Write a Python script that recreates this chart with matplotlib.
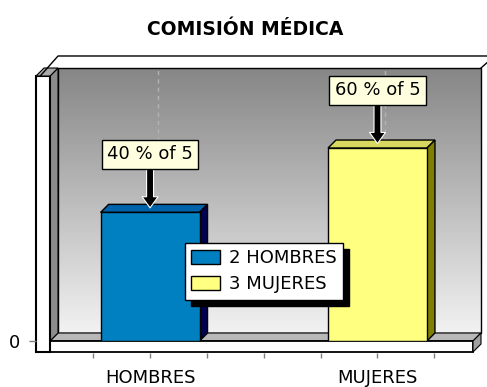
import matplotlib
matplotlib.use("Agg")
import matplotlib.pyplot as plt
import numpy as np
from matplotlib.colors import LinearSegmentedColormap
from matplotlib.patches import Polygon, Rectangle

# data
categories = ["HOMBRES", "MUJERES"]
counts = [2, 3]
total = sum(counts)

# styles
FRONT = ["#0080C0", "#FFFF80"]
TOP = ["#0062A8", "#D8D860"]
SIDE = ["#000050", "#808000"]
TICK_GRAY = "#808080"

W, H = 487, 387
AX_L, AX_R, AX_T, AX_B = 50, 473, 76, 341   # front plane, pixels
DEPTH = 8                                   # 3D depth, pixels
BAR_W = 0.435

fig = plt.figure(figsize=(W / 100, H / 100), dpi=100)
ax = fig.add_axes([AX_L / W, 1 - AX_B / H, (AX_R - AX_L) / W, (AX_B - AX_T) / H])
ax.set_xlim(-0.44, 1.42)
ax.set_ylim(0, 4.12)
ax.patch.set_visible(False)
for s in ax.spines.values():
    s.set_visible(False)

T = ax.transAxes
dax = DEPTH / (AX_R - AX_L)
day = DEPTH / (AX_B - AX_T)
x0, x1 = ax.get_xlim()
y0, y1 = ax.get_ylim()
ddx = dax * (x1 - x0)
ddy = day * (y1 - y0)

# back wall with gradient
grad = np.linspace(0, 1, 256).reshape(-1, 1)
cmap = LinearSegmentedColormap.from_list("wall", ["#f2f2f2", "#868686"])
ax.imshow(grad, cmap=cmap, extent=(dax, 1 + dax, day, 1 + day), transform=T,
          aspect="auto", origin="lower", zorder=0, clip_on=False,
          interpolation="bilinear")
ax.set_xlim(x0, x1)
ax.set_ylim(y0, y1)
ax.add_patch(Rectangle((dax, day), 1, 1, fill=False, ec="black", lw=1,
                       transform=T, clip_on=False, zorder=0.2))

x = np.arange(len(categories))

# dashed gridlines on the back wall
for xi in x:
    ax.plot([xi + ddx, xi + ddx], [ddy, y1 + ddy], ls=(0, (3, 3)), color="#b4b4b4",
            lw=1, zorder=0.3, clip_on=False)

# floor
fy = 11 / (AX_B - AX_T)
ax.add_patch(Polygon([(0, 0), (1, 0), (1 + dax, day), (dax, day)], closed=True,
                     fc="#b8b8b8", ec="black", lw=0.8, transform=T, clip_on=False, zorder=0.4))
ax.add_patch(Rectangle((0, -fy), 1, fy, fc="white", ec="black", lw=1.3,
                       transform=T, clip_on=False, zorder=0.45))
ax.add_patch(Polygon([(1, -fy), (1, 0), (1 + dax, day), (1 + dax, day - fy)], closed=True,
                     fc="#a0a0a0", ec="black", lw=0.8, transform=T, clip_on=False, zorder=0.45))

# left wall
lwx = 14 / (AX_R - AX_L)
ax.add_patch(Polygon([(0, 0), (dax, day), (dax, 1 + day), (0, 1)], closed=True,
                     fc="#8c8c8c", ec="black", lw=0.8, transform=T, clip_on=False, zorder=0.5))
ax.add_patch(Rectangle((-lwx, -fy), lwx, 1 + fy, fc="white", ec="black", lw=1.5,
                       transform=T, clip_on=False, zorder=0.55))
ax.add_patch(Polygon([(-lwx, 1), (0, 1), (dax, 1 + day), (-lwx + dax, 1 + day)], closed=True,
                     fc="#a8a8a8", ec="black", lw=0.8, transform=T, clip_on=False, zorder=0.55))

# outer top frame lines
ax.plot([-lwx + 0.01, 0.019, 1.06], [1.0, 1.0755, 1.0755], color="black", lw=1,
        transform=T, clip_on=False, zorder=0.6)
ax.plot([1 + dax, 1.04], [1 + day, 1.06], color="black", lw=1,
        transform=T, clip_on=False, zorder=0.6)

# bars with 3D faces
for i, (xi, v) in enumerate(zip(x, counts)):
    ax.bar(xi, v, width=BAR_W, color=FRONT[i], edgecolor="black", lw=1, zorder=3,
           label=f"{v} {categories[i]}")
    l, r = xi - BAR_W / 2, xi + BAR_W / 2
    ax.add_patch(Polygon([(l, v), (r, v), (r + ddx, v + ddy), (l + ddx, v + ddy)], closed=True,
                         fc=TOP[i], ec="black", lw=1, zorder=2.9))
    ax.add_patch(Polygon([(r, 0), (r + ddx, ddy), (r + ddx, v + ddy), (r, v)], closed=True,
                         fc=SIDE[i], ec="black", lw=1, zorder=2.9))
    ax.annotate(f"{v / total * 100:.0f} % of {total}", xy=(xi, v + 0.07),
                xytext=(xi, v + 0.9), ha="center", va="center", fontsize=13,
                bbox=dict(boxstyle="square,pad=0.3", fc="#FFFFE0", ec="black", lw=1),
                arrowprops=dict(arrowstyle="simple,head_width=1.15,head_length=0.8,tail_width=0.5",
                                fc="black", ec="white", lw=0.8, mutation_scale=10,
                                shrinkA=0, shrinkB=0),
                zorder=5, annotation_clip=False)

# axes ticks
ax.set_xticks(x, categories)
ax.set_xticks([-0.25, 0.25, 0.5, 0.75, 1.25], minor=True)
ax.spines["bottom"].set_position(("outward", 8.6))
ax.tick_params(axis="x", which="both", length=3.6, width=1, color=TICK_GRAY,
               pad=8, labelsize=13)
ax.set_yticks([0])
ax.spines["left"].set_position(("outward", 10))
ax.tick_params(axis="y", length=5, width=1, color=TICK_GRAY, pad=6.5, labelsize=13)

fig.text(245 / W, 1 - 35 / H, "COMISIÓN MÉDICA", ha="center", va="baseline",
         fontsize=13.5, fontweight="bold")

leg = ax.legend(loc="upper left", bbox_to_anchor=(185 / W, 1 - 243 / H),
                bbox_transform=fig.transFigure, borderaxespad=0, fancybox=False,
                shadow={"ox": 4.3, "oy": -4.3, "color": "black", "alpha": 1},
                framealpha=1, edgecolor="black", fontsize=13, handlelength=1.6,
                handleheight=0.8, borderpad=0.35, labelspacing=0.45, handletextpad=0.5)
leg.get_frame().set_linewidth(1)
leg.set_zorder(6)

fig.savefig("out.png", dpi=100)
